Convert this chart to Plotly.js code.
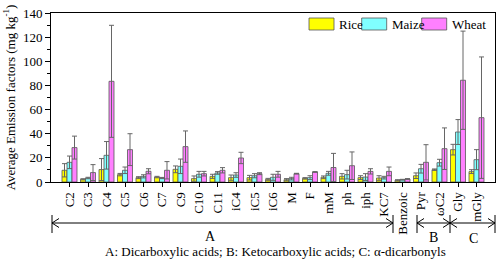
<!DOCTYPE html>
<html>
<head>
<meta charset="utf-8">
<script src="https://cdn.plot.ly/plotly-3.0.1.min.js"></script>
<style>html,body{margin:0;padding:0;background:#fff;}#chart{width:500px;height:260px;}</style>
</head>
<body>
<div id="chart"></div>
<script>
var categories = ['C2','C3','C4','C5','C6','C7','C9','C10','C11','iC4','iC5','iC6','M','F','mM','ph','iph','KC7','Benzoic','Pyr','ωC2','Gly','mGly'];
var rice     = [9.7, 2.2, 10.3, 6.1, 3.6, 4.1, 10.5, 2.8, 4.7, 3.6, 3.6, 2.2, 1.9, 3.0, 3.9, 4.7, 3.6, 3.3, 1.4, 5.2, 10.2, 26.8, 8.6];
var riceErr  = [5.5, 0.5, 9.1, 1.0, 0.8, 0.6, 2.8, 2.2, 1.7, 2.2, 1.9, 0.8, 0.9, 0.6, 1.1, 2.2, 1.6, 1.9, 0.5, 2.3, 0.6, 4.4, 1.6];
var maize    = [16.3, 3.3, 22.1, 9.7, 4.7, 3.3, 13.0, 6.4, 7.5, 5.8, 5.2, 3.9, 2.8, 3.6, 7.2, 6.1, 4.1, 3.6, 1.9, 11.0, 16.0, 41.4, 18.5];
var maizeErr = [5.2, 0.6, 11.4, 2.7, 1.3, 0.5, 6.0, 2.4, 1.1, 1.9, 1.7, 2.5, 1.1, 1.6, 1.6, 3.6, 2.8, 1.1, 0.3, 3.6, 2.8, 10.3, 8.3];
var wheat    = [28.5, 7.8, 83.4, 26.8, 8.9, 9.7, 29.3, 6.9, 9.7, 19.9, 6.9, 6.4, 6.9, 8.3, 12.0, 13.5, 8.8, 8.8, 2.5, 16.3, 27.6, 84.3, 53.3];
var wheatErr = [9.5, 6.6, 46.4, 13.2, 2.1, 7.2, 13.0, 1.9, 2.2, 4.7, 0.8, 2.4, 0.3, 0.3, 11.7, 11.4, 2.2, 3.6, 0.3, 14.6, 17.2, 40.7, 50.3];
var seriesNames = ['Rice', 'Maize', 'Wheat'];
var seriesColors = ['#FFFF00', '#80FFFF', '#FF80FF'];
var caption = 'A: Dicarboxylic acids; B: Ketocarboxylic acids; C: α-dicarbonyls';

var FONT = 'Liberation Serif, Times New Roman, serif';
var L = 51, R = 5, T = 13, B = 78, W = 500, H = 260;
var pw = W - L - R, ph = H - T - B;
function fx(x){ return (x - L) / pw; }
function fy(y){ return (H - B - y) / ph; }

function mk(name, y, err, color){
  return {
    type: 'bar', name: name, x: categories, y: y,
    marker: {color: color, line: {color: '#555', width: 0.8}},
    error_y: {type: 'data', array: err, visible: true, color: '#666', thickness: 1, width: 2.5},
    showlegend: false
  };
}
var data = [
  mk(seriesNames[0], rice, riceErr, seriesColors[0]),
  mk(seriesNames[1], maize, maizeErr, seriesColors[1]),
  mk(seriesNames[2], wheat, wheatErr, seriesColors[2])
];

var shapes = [], annotations = [];
// custom legend
var legX = [309, 361.7, 421.7];
for (var i = 0; i < 3; i++) {
  shapes.push({type:'rect', xref:'paper', yref:'paper', x0:fx(legX[i]), x1:fx(legX[i]+25), y0:fy(30), y1:fy(18),
    fillcolor: seriesColors[i], line:{color:'#555', width:0.8}});
  annotations.push({xref:'paper', yref:'paper', x:fx(legX[i]+28), y:fy(24), xanchor:'left', yanchor:'middle',
    text: seriesNames[i], showarrow:false, font:{family:FONT, size:13, color:'#000'}});
}
// brackets
var yb = 223, ah = 7, aw = 4.5;
function seg(x0, x1){
  shapes.push({type:'line', xref:'paper', yref:'paper', x0:fx(x0), x1:fx(x1), y0:fy(yb), y1:fy(yb), line:{color:'#000', width:1}});
  shapes.push({type:'line', xref:'paper', yref:'paper', x0:fx(x0+ah), x1:fx(x0), y0:fy(yb-aw), y1:fy(yb), line:{color:'#000', width:1}});
  shapes.push({type:'line', xref:'paper', yref:'paper', x0:fx(x0+ah), x1:fx(x0), y0:fy(yb+aw), y1:fy(yb), line:{color:'#000', width:1}});
  shapes.push({type:'line', xref:'paper', yref:'paper', x0:fx(x1-ah), x1:fx(x1), y0:fy(yb-aw), y1:fy(yb), line:{color:'#000', width:1}});
  shapes.push({type:'line', xref:'paper', yref:'paper', x0:fx(x1-ah), x1:fx(x1), y0:fy(yb+aw), y1:fy(yb), line:{color:'#000', width:1}});
}
seg(52, 393); seg(417, 450); seg(450, 495);
[52, 393, 417, 450, 495].forEach(function(x){
  shapes.push({type:'line', xref:'paper', yref:'paper', x0:fx(x), x1:fx(x), y0:fy(215), y1:fy(233), line:{color:'#000', width:1}});
});
[['A',210,236],['B',433,237],['C',473,238]].forEach(function(a){
  annotations.push({xref:'paper', yref:'paper', x:fx(a[1]), y:fy(a[2]), xanchor:'center', yanchor:'middle',
    text:a[0], showarrow:false, font:{family:FONT, size:14, color:'#000'}});
});
annotations.push({xref:'paper', yref:'paper', x:fx(275), y:fy(251.5), xanchor:'center', yanchor:'middle',
  text: caption, showarrow:false, font:{family:FONT, size:13, color:'#000'}});

var layout = {
  width: W, height: H,
  margin: {l: L, r: R, t: T, b: B, pad: 0},
  paper_bgcolor: '#fff', plot_bgcolor: '#fff',
  font: {family: FONT, size: 13, color: '#000'},
  barmode: 'group', bargap: 0.19, bargroupgap: 0,
  showlegend: false,
  xaxis: {
    type: 'category', range: [-1, 23], tickangle: -90,
    showline: true, mirror: true, linecolor: '#000', linewidth: 1,
    ticks: 'outside', ticklen: 4, tickcolor: '#000', showgrid: false, zeroline: false,
    tickfont: {family: FONT, size: 13, color: '#000'}, automargin: false
  },
  yaxis: {
    range: [0, 140], dtick: 20, tick0: 0,
    showline: true, mirror: true, linecolor: '#000', linewidth: 1,
    ticks: 'outside', ticklen: 5, tickcolor: '#000', showgrid: false, zeroline: false,
    minor: {dtick: 10, ticks: 'outside', ticklen: 3, tickcolor: '#000', showgrid: false},
    tickfont: {family: FONT, size: 13, color: '#000'}, automargin: false,
    title: {text: 'Average Emission factors (mg kg<sup>-1</sup>)', font: {family: FONT, size: 13, color: '#000'}, standoff: 4}
  },
  shapes: shapes,
  annotations: annotations
};
Plotly.newPlot('chart', data, layout, {staticPlot: true, displayModeBar: false});
</script>
</body>
</html>
